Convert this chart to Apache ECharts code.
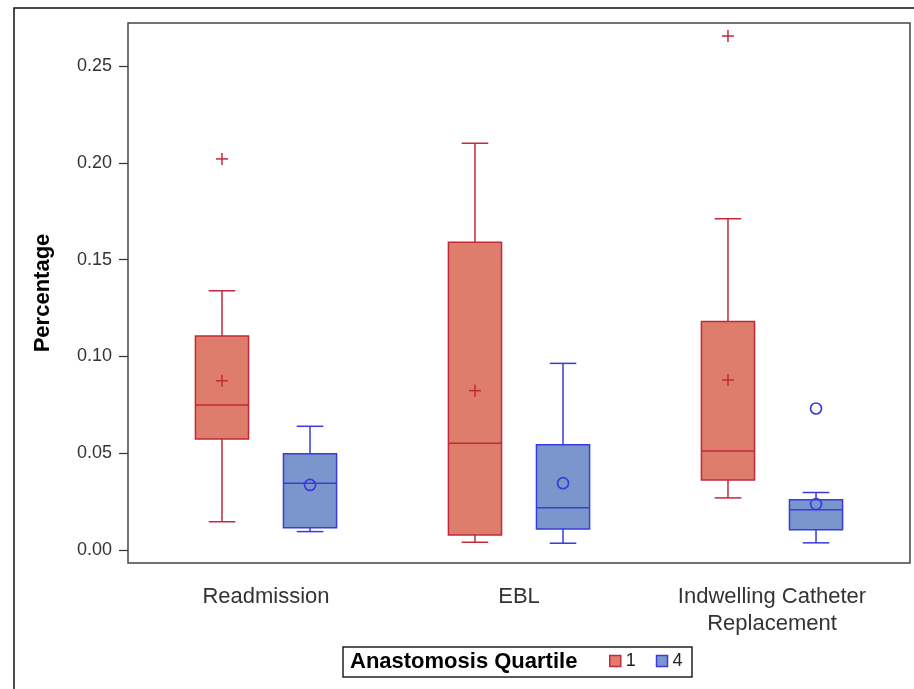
<!DOCTYPE html>
<html>
<head>
<meta charset="utf-8">
<script src="https://cdn.jsdelivr.net/npm/echarts@6/dist/echarts.min.js"></script>
<style>
  html, body { margin: 0; padding: 0; background: #fff; }
  #main { width: 914px; height: 689px; }
</style>
</head>
<body>
<div id="main"></div>
<script>
// categories on the x axis
const categories = ['Readmission', 'EBL', 'Indwelling Catheter\nReplacement'];
const yTicks = [0, 0.05, 0.10, 0.15, 0.20, 0.25];

// [min, Q1, median, Q3, max, mean] per category
const quartile1 = [
  [0.0146, 0.0573, 0.0749, 0.1105, 0.1339, 0.0874],
  [0.0040, 0.0077, 0.0551, 0.1589, 0.2101, 0.0823],
  [0.0269, 0.0361, 0.0512, 0.1180, 0.1711, 0.0878]
];
const quartile4 = [
  [0.0095, 0.0115, 0.0345, 0.0497, 0.0639, 0.0336],
  [0.0035, 0.0108, 0.0218, 0.0544, 0.0964, 0.0345],
  [0.0037, 0.0104, 0.0208, 0.0260, 0.0297, 0.0237]
];
// [category index, value]
const outliers1 = [[0, 0.2020], [2, 0.2655]];
const outliers4 = [[2, 0.0731]];

const redFill = '#DE7D6C', redLine = '#C22A3A';
const blueFill = '#7B96CC', blueLine = '#3A3ADE';
const font = "'Liberation Sans', Arial, sans-serif";

// mean / outlier marker: plus or circle
function marker(shape, x, y, color) {
  if (shape === 'plus') {
    return [
      { type: 'line', shape: { x1: x - 6, y1: y, x2: x + 6, y2: y }, style: { stroke: color, lineWidth: 1.5 } },
      { type: 'line', shape: { x1: x, y1: y - 6, x2: x, y2: y + 6 }, style: { stroke: color, lineWidth: 1.5 } }
    ];
  }
  return [{ type: 'circle', shape: { cx: x, cy: y, r: 5.5 }, style: { fill: 'none', stroke: color, lineWidth: 1.7 } }];
}

function boxSeries(name, stats, fill, stroke, side, shape) {
  return {
    name: name,
    type: 'custom',
    itemStyle: { color: fill, borderColor: stroke },
    encode: { x: 0, y: [1, 2, 3, 4, 5, 6] },
    data: stats.map((s, i) => [i].concat(s)),
    renderItem: function (params, api) {
      const band = api.size([1, 0])[0];
      const cx = api.coord([api.value(0), 0])[0] + side * band * 0.174;
      const half = band * 0.105;
      const cap = half / 2;
      const y = k => api.coord([api.value(0), api.value(k)])[1];
      const yMin = y(1), yQ1 = y(2), yMed = y(3), yQ3 = y(4), yMax = y(5), yMean = y(6);
      const ls = { stroke: stroke, lineWidth: 1.5 };
      return {
        type: 'group',
        children: [
          { type: 'line', shape: { x1: cx, y1: yMax, x2: cx, y2: yQ3 }, style: ls },
          { type: 'line', shape: { x1: cx, y1: yQ1, x2: cx, y2: yMin }, style: ls },
          { type: 'line', shape: { x1: cx - cap, y1: yMax, x2: cx + cap, y2: yMax }, style: ls },
          { type: 'line', shape: { x1: cx - cap, y1: yMin, x2: cx + cap, y2: yMin }, style: ls },
          { type: 'rect', shape: { x: cx - half, y: yQ3, width: half * 2, height: yQ1 - yQ3 },
            style: { fill: fill, stroke: stroke, lineWidth: 1.5 } },
          { type: 'line', shape: { x1: cx - half, y1: yMed, x2: cx + half, y2: yMed }, style: ls }
        ].concat(marker(shape, cx, yMean, stroke))
      };
    }
  };
}

function outlierSeries(name, pts, stroke, side, shape) {
  return {
    name: name,
    type: 'custom',
    encode: { x: 0, y: 1 },
    data: pts,
    renderItem: function (params, api) {
      const band = api.size([1, 0])[0];
      const p = api.coord([api.value(0), api.value(1)]);
      return { type: 'group', children: marker(shape, p[0] + side * band * 0.174, p[1], stroke) };
    }
  };
}

const chart = echarts.init(document.getElementById('main'));

const option = {
  backgroundColor: '#fff',
  animation: false,
  grid: { left: 139.5, right: 15.5, top: 66, bottom: 139 },
  xAxis: {
    type: 'category',
    data: categories,
    offset: 13,
    axisLine: { show: false },
    axisTick: { alignWithLabel: true, length: 9, lineStyle: { color: '#333', width: 1.2 } },
    axisLabel: { color: '#333', fontSize: 22, fontFamily: font, margin: 20, lineHeight: 27, interval: 0 }
  },
  yAxis: {
    type: 'value',
    min: yTicks[0],
    max: yTicks[yTicks.length - 1],
    interval: 0.05,
    offset: 11.5,
    splitLine: { show: false },
    axisLine: { show: false },
    axisTick: { show: true, length: 9, lineStyle: { color: '#333', width: 1.2 } },
    axisLabel: { color: '#333', fontSize: 18, fontFamily: font, margin: 16, formatter: v => v.toFixed(2) }
  },
  legend: {
    left: 609,
    top: 652,
    padding: 0,
    itemWidth: 11,
    itemHeight: 11,
    itemGap: 20,
    textStyle: { fontSize: 18, fontFamily: font, color: '#222' },
    data: [
      { name: '1', icon: 'rect', itemStyle: { color: redFill, borderColor: redLine, borderWidth: 1.5 } },
      { name: '4', icon: 'rect', itemStyle: { color: blueFill, borderColor: blueLine, borderWidth: 1.5 } }
    ]
  },
  graphic: [
    // outer frame
    { type: 'rect', shape: { x: 14, y: 8, width: 920, height: 700 }, style: { fill: 'none', stroke: '#111', lineWidth: 1.5 }, z: 10 },
    // plot frame
    { type: 'rect', shape: { x: 128, y: 23, width: 782, height: 540 }, style: { fill: 'none', stroke: '#444', lineWidth: 1.5 }, z: 10 },
    {
      type: 'text', x: 43, y: 293, rotation: Math.PI / 2,
      style: { text: 'Percentage', fontSize: 22, fontWeight: 'bold', fontFamily: font, fill: '#000', align: 'center', verticalAlign: 'middle' }
    },
    // legend frame and title
    { type: 'rect', shape: { x: 343, y: 647, width: 349, height: 30 }, style: { fill: 'none', stroke: '#222', lineWidth: 1.5 }, z: 10 },
    {
      type: 'text', x: 350, y: 662,
      style: { text: 'Anastomosis Quartile', fontSize: 22, fontWeight: 'bold', fontFamily: font, fill: '#000', verticalAlign: 'middle' }
    }
  ],
  series: [
    boxSeries('1', quartile1, redFill, redLine, -1, 'plus'),
    boxSeries('4', quartile4, blueFill, blueLine, 1, 'circle'),
    outlierSeries('1', outliers1, redLine, -1, 'plus'),
    outlierSeries('4', outliers4, blueLine, 1, 'circle')
  ]
};

chart.setOption(option);
</script>
</body>
</html>
